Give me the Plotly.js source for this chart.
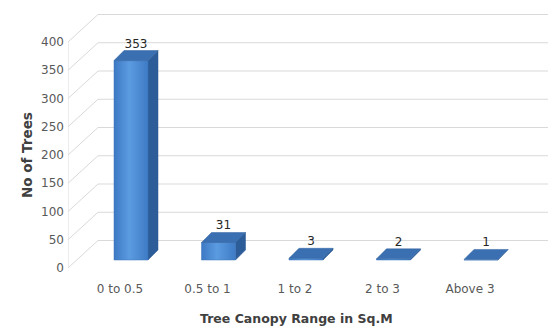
<!DOCTYPE html>
<html>
<head>
<meta charset="utf-8">
<script src="https://cdn.plot.ly/plotly-3.0.1.min.js"></script>
<style>
  html, body { margin: 0; padding: 0; background: #ffffff; }
  #chart { width: 557px; height: 331px; }
</style>
</head>
<body>
<div id="chart"></div>
<script>
// Tree canopy distribution
const categories = ['0 to 0.5', '0.5 to 1', '1 to 2', '2 to 3', 'Above 3'];
const treeCounts = [353, 31, 3, 2, 1];
const yTicks = [0, 50, 100, 150, 200, 250, 300, 350, 400];

// Plot geometry (pixels)
const W = 557, H = 331;
const M = { l: 68, r: 9, t: 8, b: 53 };
const pxPerCat = 87.5;                 // horizontal pixels per category
const pxPerUnit = 0.565;               // vertical pixels per tree
const firstCatPx = 120 - M.l;          // first category centre from plot left
const zeroPx = 268 - M.t;              // value 0 from plot top

const plotW = W - M.l - M.r, plotH = H - M.t - M.b;
const xRange = [-firstCatPx / pxPerCat, (plotW - firstCatPx) / pxPerCat];
const yRange = [-(plotH - zeroPx) / pxPerUnit, zeroPx / pxPerUnit];

const ux = px => px / pxPerCat;
const uy = px => px / pxPerUnit;

// 3-D look: wall depth and bar depth
const wallDX = ux(30), wallDY = uy(27.5);
const barShiftX = ux(11), barBase = uy(8);
const barW = ux(34), barDX = ux(10), barDY = uy(10);

const xMin = xRange[0], xMax = xRange[1];
const traces = [];

// Side-wall diagonals and back-wall gridlines
const gx = [], gy = [];
yTicks.forEach(v => {
  gx.push(xMin, xMin + wallDX, xMax, null);
  gy.push(v, v + wallDY, v + wallDY, null);
});
traces.push({
  x: gx, y: gy, mode: 'lines', type: 'scatter',
  line: { color: '#d9d9d9', width: 1 }, hoverinfo: 'skip', showlegend: false
});

// Vertical axis line
traces.push({
  x: [xMin, xMin], y: [yTicks[0], yTicks[yTicks.length - 1]],
  mode: 'lines', type: 'scatter',
  line: { color: '#d9d9d9', width: 1 }, hoverinfo: 'skip', showlegend: false
});

// Bars as front / side / top faces
const labelX = [], labelY = [], labelT = [];
treeCounts.forEach((v, i) => {
  const x0 = i + barShiftX - barW / 2, x1 = x0 + barW;
  const y0 = barBase, y1 = barBase + v;
  traces.push({
    x: [x1, x1 + barDX, x1 + barDX, x1, x1],
    y: [y0, y0 + barDY, y1 + barDY, y1, y0],
    mode: 'lines', fill: 'toself', fillcolor: '#2d5d99',
    line: { width: 0.5, color: '#2a5690' }, hoverinfo: 'skip', showlegend: false
  });
  traces.push({
    x: [x0, x1, x1, x0, x0],
    y: [y0, y0, y1, y1, y0],
    mode: 'lines', fill: 'toself',
    fillgradient: {
      type: 'horizontal',
      colorscale: [[0, '#3d79c4'], [0.45, '#5b9be0'], [1, '#3f7bc6']]
    },
    line: { width: 0.5, color: '#3a74bb' }, hoverinfo: 'skip', showlegend: false
  });
  traces.push({
    x: [x0, x0 + barDX, x1 + barDX, x1, x0],
    y: [y1, y1 + barDY, y1 + barDY, y1, y1],
    mode: 'lines', fill: 'toself', fillcolor: '#3a6fb1',
    line: { width: 0.5, color: '#2f619e' }, hoverinfo: 'skip', showlegend: false
  });
  labelX.push(i + barShiftX + barDX / 2);
  labelY.push(y1 + barDY);
  labelT.push(String(v));
});

// Value labels
traces.push({
  x: labelX, y: labelY, text: labelT, mode: 'text', type: 'scatter',
  textposition: 'top center',
  textfont: { family: 'DejaVu Sans, sans-serif', size: 12, color: '#262626' },
  hoverinfo: 'skip', showlegend: false
});

const tickFont = { family: 'DejaVu Sans, sans-serif', size: 12, color: '#595959' };
const titleFont = { family: 'DejaVu Sans, sans-serif', size: 12.5, color: '#404040', weight: 'bold' };

const layout = {
  width: W, height: H,
  margin: M,
  paper_bgcolor: '#ffffff', plot_bgcolor: 'rgba(0,0,0,0)',
  showlegend: false,
  xaxis: {
    range: xRange, showgrid: false, zeroline: false, showline: false,
    tickmode: 'array', tickvals: categories.map((_, i) => i), ticktext: categories,
    ticks: '', tickfont: tickFont, ticklabelstandoff: 2, fixedrange: true
  },
  yaxis: {
    range: yRange, showgrid: false, zeroline: false, showline: false,
    tickmode: 'array', tickvals: yTicks, ticktext: yTicks.map(String),
    ticks: '', tickfont: tickFont, ticklabelstandoff: 3, fixedrange: true
  },
  annotations: [
    {
      text: 'Tree Canopy Range in Sq.M', xref: 'paper', yref: 'paper',
      x: (296 - M.l) / plotW, y: -(318 - M.t - plotH) / plotH,
      xanchor: 'center', yanchor: 'middle', showarrow: false,
      font: titleFont
    },
    {
      text: 'No of Trees', xref: 'paper', yref: 'paper',
      x: -(M.l - 27) / plotW, y: 1 - (155 - M.t) / plotH,
      xanchor: 'center', yanchor: 'middle', textangle: -90, showarrow: false,
      font: Object.assign({}, titleFont, { size: 13.5 })
    }
  ]
};

Plotly.newPlot('chart', traces, layout, { staticPlot: true, displayModeBar: false });
</script>
</body>
</html>
